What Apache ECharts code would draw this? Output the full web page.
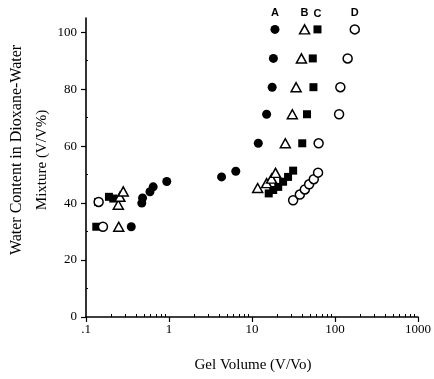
<!DOCTYPE html>
<html><head><meta charset="utf-8">
<script src="https://cdn.jsdelivr.net/npm/echarts@6/dist/echarts.min.js"></script>
<style>html,body{margin:0;padding:0;background:#fff}#c{width:434px;height:379px}</style>
</head><body><div id="c"></div>
<script>
// Gel volume (V/Vo) vs water content (V/V%)
const seriesNames = ['A', 'B', 'C', 'D'];
const dataA = [[0.351,31.7],[0.47,40.0],[0.48,41.8],[0.59,44.0],[0.645,45.7],[0.94,47.6],[4.3,49.2],[6.38,51.2],[11.9,61],[15.0,71.2],[17.5,80.7],[18.1,90.8],[18.9,101]];
const dataB = [[0.248,31.7],[0.245,39.4],[0.256,42.2],[0.281,44.1],[11.7,45.3],[15.0,47],[17.2,48.6],[19.2,50.6],[25.2,61],[30.6,71.2],[34,80.7],[39.4,90.8],[43,101]];
const dataC = [[0.133,31.7],[0.14,40.4],[0.189,42.2],[0.213,41.6],[15.9,43.4],[18.0,44.6],[20.7,45.7],[23.7,47.5],[27.2,49.2],[31.3,51.4],[40.3,61],[46,71.2],[55,80.7],[54,90.8],[61.5,101]];
const dataD = [[0.142,40.4],[0.16,31.7],[31.3,41.0],[37.7,43],[43.3,44.8],[48.8,46.6],[55.5,48.4],[62.5,50.7],[63.5,61],[112,71.2],[116,80.7],[142,90.8],[173,101]];
const xMajorTicks = [0.1, 1, 10, 100, 1000];
const xTickLabels = {0.1: '.1', 1: '1', 10: '10', 100: '100', 1000: '1000'};
const xMinorTicks = [0.2,0.3,0.4,0.5,0.6,0.7,0.8,0.9,2,3,4,5,6,7,8,9,20,30,40,50,60,70,80,90,200,300,400,500,600,700,800,900];
const yTicks = [0, 20, 40, 60, 80, 100];
const yMinorTicks = [10, 30, 50, 70, 90];

const FONT = 'Liberation Serif';
function withTopLabel(data, name) {
  return data.map((d, i) => {
    if (i === data.length - 1) {
      return {value: d, label: {show: true, formatter: name, position: 'top', distance: 6,
        fontFamily: 'Liberation Sans', fontWeight: 'bold', fontSize: 11, color: '#000'}};
    }
    return d;
  });
}
const chart = echarts.init(document.getElementById('c'), null, {renderer: 'canvas'});
chart.setOption({
  animation: false,
  backgroundColor: '#fff',
  grid: {left: 86, right: 16, top: 18, bottom: 62},
  xAxis: [{
    type: 'log', logBase: 10, min: 0.1, max: 1000,
    axisLine: {lineStyle: {color: '#000', width: 1.6}},
    axisTick: {show: true, customValues: xMajorTicks, length: 5, inside: false, lineStyle: {color: '#000', width: 1.2}},
    axisLabel: {customValues: xMajorTicks, formatter: v => xTickLabels[v] !== undefined ? xTickLabels[v] : String(v),
      fontFamily: FONT, fontSize: 13, color: '#000', margin: 6},
    splitLine: {show: false}, minorTick: {show: false}
  }, {
    type: 'log', logBase: 10, min: 0.1, max: 1000, position: 'bottom',
    axisLine: {show: false},
    axisTick: {show: true, customValues: xMinorTicks, length: 3, inside: true, lineStyle: {color: '#000', width: 1}},
    axisLabel: {show: false}, splitLine: {show: false}
  }],
  yAxis: [{
    type: 'value', min: 0, max: 105,
    axisLine: {show: true, lineStyle: {color: '#000', width: 1.6}},
    axisTick: {show: true, customValues: yTicks, length: 5, inside: false, lineStyle: {color: '#000', width: 1.2}},
    axisLabel: {customValues: yTicks, fontFamily: FONT, fontSize: 13, color: '#000', margin: 9},
    splitLine: {show: false}
  }, {
    type: 'value', min: 0, max: 105, position: 'left',
    axisLine: {show: false},
    axisTick: {show: true, customValues: yMinorTicks, length: 2, inside: true, lineStyle: {color: '#000', width: 1}},
    axisLabel: {show: false}, splitLine: {show: false}
  }],
  graphic: [
    {type: 'text', x: 17, y: 150, rotation: Math.PI / 2,
      style: {text: 'Water Content in Dioxane-Water', font: '16px "Liberation Serif"', fill: '#000', align: 'center', verticalAlign: 'middle'}},
    {type: 'text', x: 42, y: 160, rotation: Math.PI / 2,
      style: {text: 'Mixture (V/V%)', font: '15px "Liberation Serif"', fill: '#000', align: 'center', verticalAlign: 'middle'}},
    {type: 'text', x: 253, y: 365,
      style: {text: 'Gel Volume (V/Vo)', font: '15px "Liberation Serif"', fill: '#000', align: 'center', verticalAlign: 'middle'}}
  ],
  series: [
    {name: 'A', type: 'scatter', data: withTopLabel(dataA, 'A'), symbol: 'circle', symbolSize: 9,
      itemStyle: {color: '#000', opacity: 1}, z: 2},
    {name: 'C', type: 'scatter', data: withTopLabel(dataC, 'C'), symbol: 'rect', symbolSize: 8,
      itemStyle: {color: '#000', opacity: 1}, z: 3},
    {name: 'B', type: 'scatter', data: withTopLabel(dataB, 'B'), symbol: 'triangle', symbolSize: [10, 9],
      itemStyle: {color: '#fff', borderColor: '#000', borderWidth: 1.5, opacity: 1}, z: 4},
    {name: 'D', type: 'scatter', data: withTopLabel(dataD, 'D'), symbol: 'circle', symbolSize: 9,
      itemStyle: {color: '#fff', borderColor: '#000', borderWidth: 1.5, opacity: 1}, z: 5}
  ]
});
</script>
</body></html>
